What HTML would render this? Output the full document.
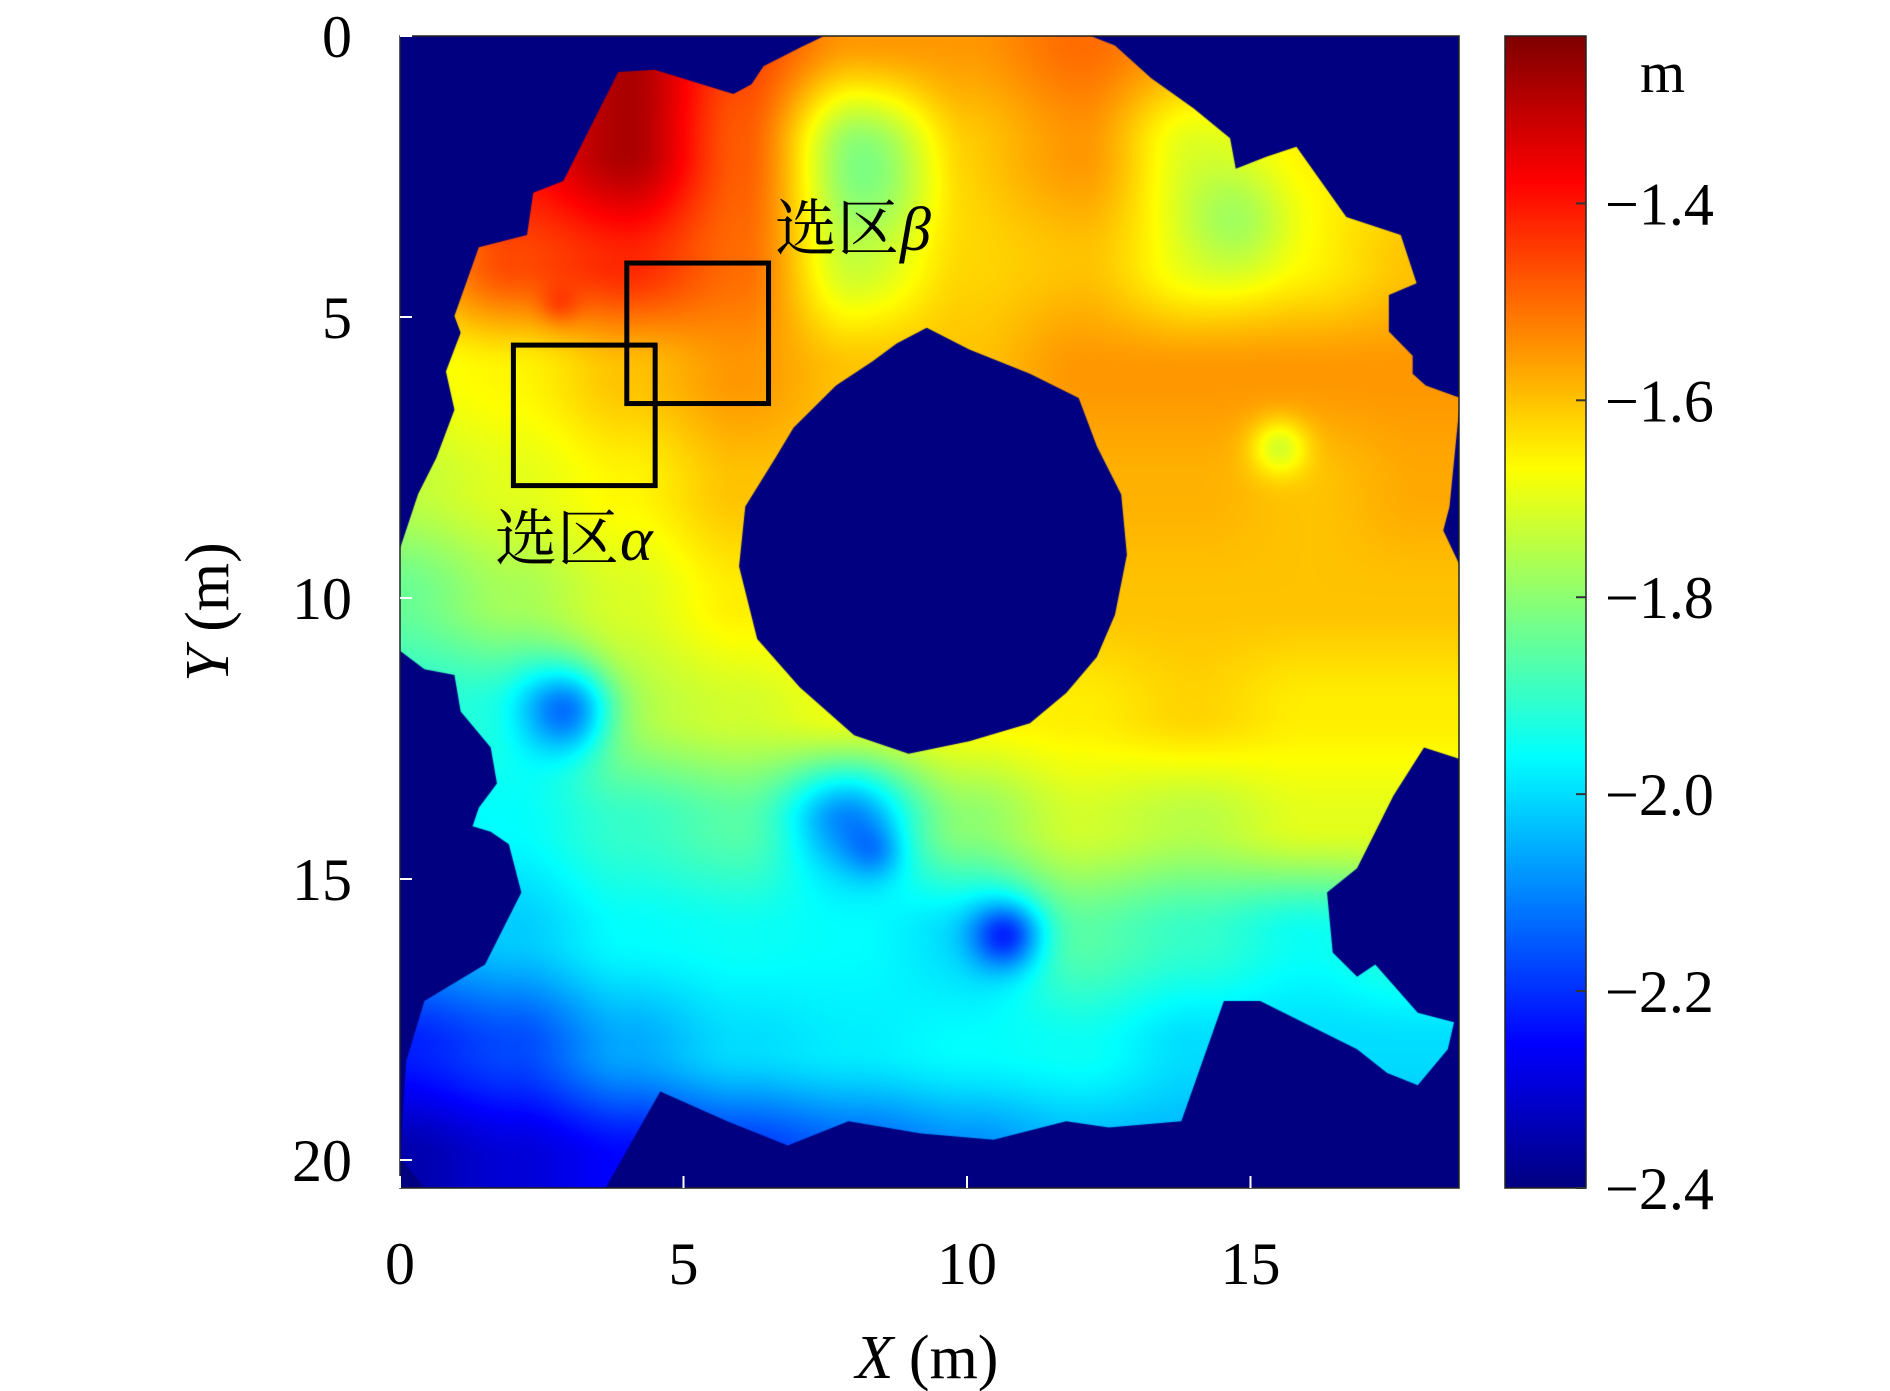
<!DOCTYPE html>
<html><head><meta charset="utf-8">
<style>
html,body{margin:0;padding:0;background:#fff;}
#wrap{position:relative;width:1890px;height:1391px;overflow:hidden;}
canvas{position:absolute;left:0;top:0;}
svg{position:absolute;left:0;top:0;}
text{font-family:"Liberation Serif","Noto Serif CJK SC",serif;fill:#000;}
</style></head>
<body>
<div id="wrap">
<canvas id="cv" width="1890" height="1391"></canvas>
<svg id="sv" width="1890" height="1391"></svg>
</div>
<script>
// ---- data ----
const gridX = [0,2,4,6,8,10,12,14,16,18];
const gridY = [0,2,4,6,8,10,12,14,16,18,20];
const elev = [
[-1.5,-1.42,-1.28,-1.45,-1.55,-1.55,-1.5,-1.55,-1.6,-1.6],
[-1.45,-1.38,-1.28,-1.48,-1.75,-1.6,-1.55,-1.7,-1.65,-1.65],
[-1.58,-1.46,-1.42,-1.5,-1.72,-1.62,-1.6,-1.68,-1.65,-1.6],
[-1.68,-1.66,-1.6,-1.55,-1.6,-1.6,-1.55,-1.55,-1.55,-1.55],
[-1.74,-1.7,-1.66,-1.6,-1.6,-1.6,-1.58,-1.58,-1.6,-1.57],
[-1.84,-1.77,-1.71,-1.65,-1.62,-1.6,-1.6,-1.6,-1.6,-1.6],
[-1.92,-1.92,-1.75,-1.72,-1.68,-1.66,-1.65,-1.62,-1.65,-1.65],
[-1.97,-1.96,-1.9,-1.86,-1.98,-1.8,-1.72,-1.75,-1.7,-1.7],
[-2.06,-2.02,-1.96,-1.95,-1.96,-2.0,-1.86,-1.9,-1.95,-1.9],
[-2.22,-2.17,-2.06,-2.0,-1.98,-1.96,-1.95,-2.0,-2.0,-2.0],
[-2.35,-2.3,-2.25,-2.2,-2.15,-2.1,-2.05,-2.05,-2.05,-2.05]
];
// craters: x, y, depth, radius (m)
const craterX = [3.0,7.8,8.4,10.7,15.5,8.5,14.8,2.8];
const craterY = [12.0,13.9,14.5,16.0,7.3,2.5,3.3,4.8];
const craterD = [-0.28,-0.12,-0.1,-0.25,-0.13,-0.08,-0.1,0.06];
const craterR = [0.8,0.9,0.5,0.6,0.5,1.2,1.0,0.35];
// surveyed boundary (m)
const outerX = [0,0.32,0.64,0.96,0.81,1.07,0.96,1.39,2.24,2.35,2.88,3.85,4.49,5.88,6.2,6.41,7.05,7.48,12.18,12.61,13.25,14.0,14.64,14.74,15.28,15.81,16.69,17.65,17.93,17.44,17.44,17.86,17.86,18.09,18.7,18.51,18.4,18.7,18.7,18.06,17.52,16.88,16.35,16.45,16.88,17.2,17.95,18.59,18.48,17.95,17.41,16.88,15.17,14.53,13.78,12.5,11.75,10.47,9.19,7.91,6.84,5.77,4.59,3.63,0.43,0,0.11,0.43,1.5,2.14,1.92,1.6,1.28,1.39,1.71,1.6,1.07,0.96,0.43,0];
const outerY = [9.12,8.15,7.51,6.65,5.97,5.28,4.98,3.76,3.54,2.79,2.58,0.64,0.6,1.03,0.86,0.54,0.21,0,0,0.17,0.75,1.29,1.82,2.36,2.15,1.97,3.22,3.54,4.4,4.61,5.26,5.69,6.01,6.22,6.44,8.37,8.8,9.44,12.87,12.66,13.52,14.81,15.24,16.31,16.74,16.52,17.38,17.55,18.03,18.67,18.45,18.03,17.17,17.17,19.31,19.42,19.31,19.64,19.53,19.31,19.74,19.31,18.78,20.49,20.49,19.96,18.24,17.17,16.52,15.24,14.38,14.16,14.06,13.73,13.3,12.66,12.02,11.37,11.27,10.94];
const holeX = [9.29,10.04,11.11,11.97,12.29,12.72,12.82,12.61,12.29,11.75,11.11,10.04,8.97,8.01,7.05,6.3,5.98,6.09,6.62,6.94,7.69,8.33,8.76];
const holeY = [5.19,5.58,6.01,6.44,7.3,8.16,9.23,10.3,11.05,11.69,12.23,12.55,12.77,12.44,11.59,10.73,9.44,8.37,7.51,6.97,6.22,5.79,5.47];
const boxesX = [4.0,2.0];
const boxesY = [4.04,5.5];
const boxSize = 2.5;
const xTicks = [0,5,10,15];
const yTicks = [0,5,10,15,20];
const cbTicks = [-1.4,-1.6,-1.8,-2.0,-2.2,-2.4];
const cbLabels = ["\u22121.4","\u22121.6","\u22121.8","\u22122.0","\u22122.2","\u22122.4"];

// ---- scales ----
const PL=400, PT=36, PW=1059, PH=1152;
const sx = x => PL + x*56.7;
const sy = y => PT + y*56.2;
const CBL=1505, CBW=81, CBT=36, CBB=1188;
const vMin=-2.4, vMax=-1.23;
const cy = v => CBB - (v-vMin)/(vMax-vMin)*(CBB-CBT);

function jet(t){
  t=Math.max(0,Math.min(1,t));
  const r=Math.max(0,Math.min(1,1.5-Math.abs(4*t-3)));
  const g=Math.max(0,Math.min(1,1.5-Math.abs(4*t-2)));
  const b=Math.max(0,Math.min(1,1.5-Math.abs(4*t-1)));
  return [r*255|0,g*255|0,b*255|0];
}
function field(x,y){
  let fx=Math.max(0,Math.min(gridX.length-1.001,x/2));
  let fy=Math.max(0,Math.min(gridY.length-1.001,y/2));
  const i=Math.floor(fx), j=Math.floor(fy);
  let u=fx-i, w=fy-j;
  u=u*u*(3-2*u); w=w*w*(3-2*w);
  let v=(elev[j][i]*(1-u)+elev[j][i+1]*u)*(1-w)+(elev[j+1][i]*(1-u)+elev[j+1][i+1]*u)*w;
  for(let k=0;k<craterX.length;k++){
    const d2=((x-craterX[k])**2+(y-craterY[k])**2)/(craterR[k]**2);
    v+=craterD[k]*Math.exp(-d2);
  }
  return v;
}
const cv=document.getElementById('cv');
const ctx=cv.getContext('2d');
const img=ctx.createImageData(PW,PH);
for(let py=0;py<PH;py++){
  const y=py/56.2;
  for(let px=0;px<PW;px++){
    const x=px/56.7;
    const c=jet((field(x,y)-vMin)/(vMax-vMin));
    const o=(py*PW+px)*4;
    img.data[o]=c[0];img.data[o+1]=c[1];img.data[o+2]=c[2];img.data[o+3]=255;
  }
}
const off=document.createElement('canvas');off.width=PW;off.height=PH;
off.getContext('2d').putImageData(img,0,0);
ctx.fillStyle='#000080';
ctx.fillRect(PL,PT,PW,PH);
ctx.save();
ctx.beginPath();
ctx.rect(PL,PT,PW,PH);
ctx.clip();
ctx.beginPath();
outerX.forEach((x,i)=>{i?ctx.lineTo(sx(x),sy(outerY[i])):ctx.moveTo(sx(x),sy(outerY[i]));});
ctx.closePath();
holeX.forEach((x,i)=>{i?ctx.lineTo(sx(x),sy(holeY[i])):ctx.moveTo(sx(x),sy(holeY[i]));});
ctx.closePath();
ctx.clip('evenodd');
ctx.drawImage(off,PL,PT);
ctx.restore();
for(let py=CBT;py<CBB;py++){
  const t=(CBB-py)/(CBB-CBT);
  const c=jet(t);
  ctx.fillStyle=`rgb(${c[0]},${c[1]},${c[2]})`;
  ctx.fillRect(CBL,py,CBW,1);
}

// ---- svg ----
const NS='http://www.w3.org/2000/svg';
const sv=document.getElementById('sv');
function mk(tag,attrs,txt){
  const e=document.createElementNS(NS,tag);
  for(const k in attrs)e.setAttribute(k,attrs[k]);
  if(txt!==undefined)e.textContent=txt;
  sv.appendChild(e);return e;
}
let e;
e=mk('rect',{x:PL,y:PT,width:PW,height:PH,fill:'none',stroke:'#222','stroke-width':1.5});


e=mk('rect',{x:CBL,y:CBT,width:CBW,height:CBB-CBT,fill:'none',stroke:'#222','stroke-width':1.5});


xTicks.forEach(t=>{
  e=mk('line',{x1:sx(t),x2:sx(t),y1:PT+PH,y2:PT+PH-12,stroke:'#fff','stroke-width':2});
  
  
  e=mk('text',{x:sx(t),y:1284,'font-size':60,'text-anchor':'middle'},String(t));
  
  
});
yTicks.forEach(t=>{
  e=mk('line',{x1:PL,x2:PL+12,y1:sy(t),y2:sy(t),stroke:'#fff','stroke-width':2});
  
  
  e=mk('text',{x:352,y:sy(t)+21,'font-size':60,'text-anchor':'end'},String(t));
  
  
});
cbTicks.forEach((t,i)=>{
  e=mk('line',{x1:CBL+CBW,x2:CBL+CBW-10,y1:cy(t),y2:cy(t),stroke:'#333','stroke-width':2});
  
  
  e=mk('text',{x:1605,y:cy(t)+21,'font-size':60},cbLabels[i]);
  
  
});
e=mk('text',{x:1640,y:92,'font-size':58},'m');


boxesX.forEach((bx,i)=>{
  e=mk('rect',{x:sx(bx),y:sy(boxesY[i]),width:boxSize*56.7,height:boxSize*56.2,fill:'none',stroke:'#000','stroke-width':5});
  
  
});
e=mk('text',{x:775,y:250,'font-size':62},'选区');


e=mk('text',{x:900,y:250,'font-size':62,'font-style':'italic'},'β');


e=mk('text',{x:495,y:560,'font-size':62},'选区');


e=mk('text',{x:620,y:560,'font-size':62,'font-style':'italic'},'α');


e=mk('text',{x:927,y:1378,'font-size':62,'text-anchor':'middle'});
e.innerHTML='<tspan font-style="italic">X</tspan> (m)';


e=mk('text',{x:0,y:0,'font-size':62,'text-anchor':'middle',transform:'translate(228,612) rotate(-90)'});
e.innerHTML='<tspan font-style="italic">Y</tspan> (m)';


</script>
</body></html>
